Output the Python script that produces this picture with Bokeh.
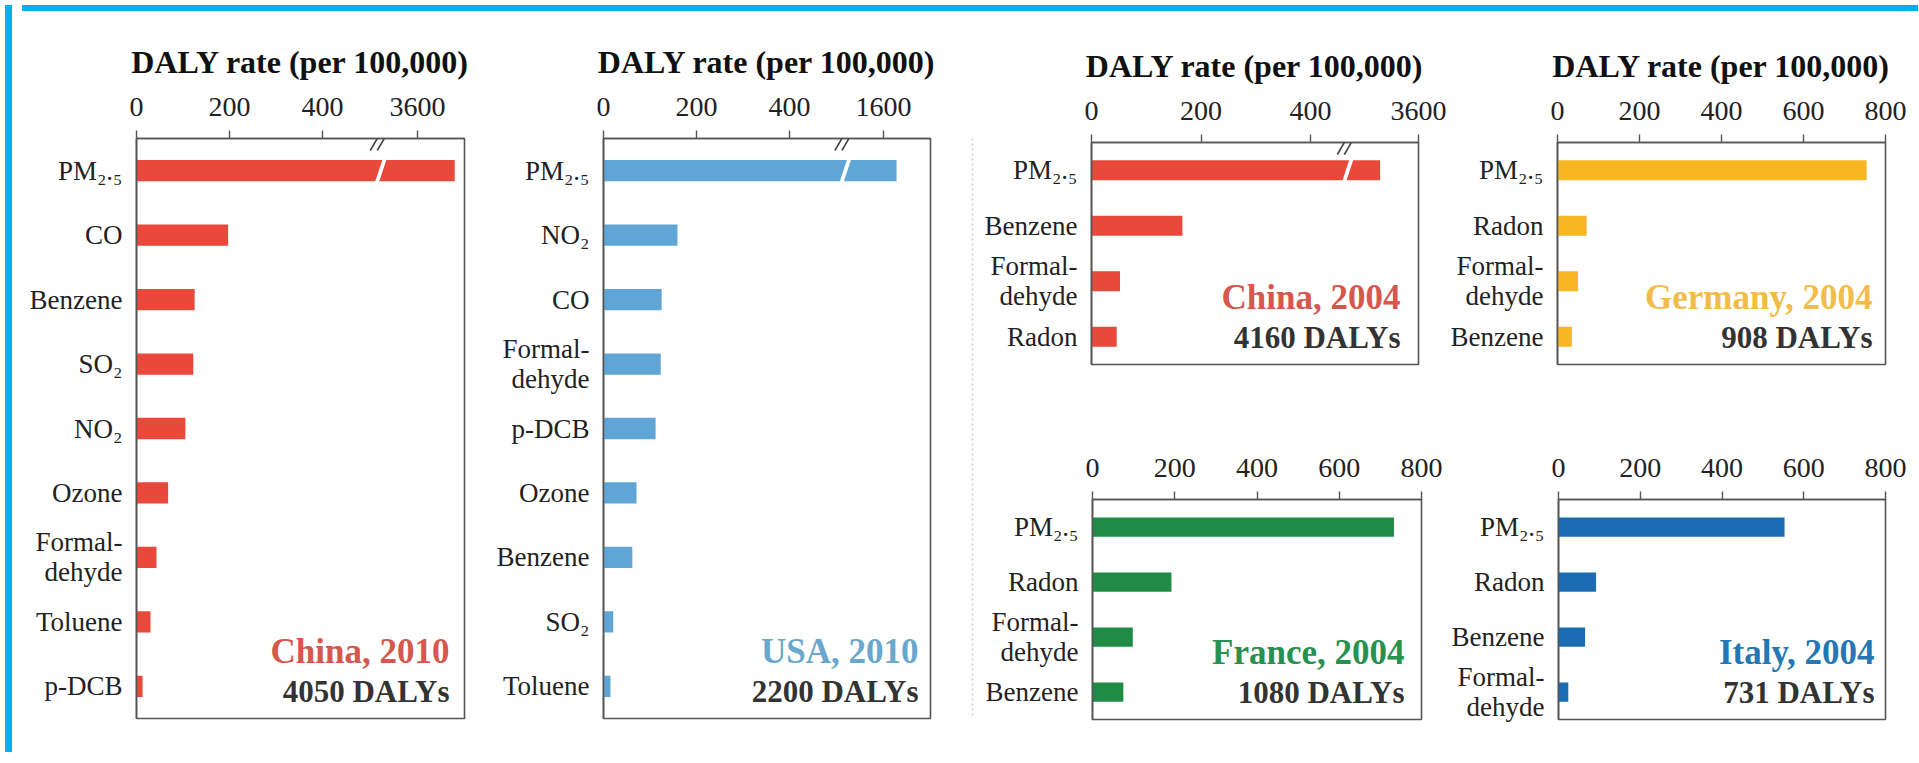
from bokeh.plotting import figure
from bokeh.models import Range1d, FactorRange, FixedTicker, Label, Span, Div, ColumnDataSource, Arrow
from bokeh.layouts import row, column
from bokeh.embed import file_html
from bokeh.resources import INLINE

FONT = "Liberation Serif"

# ---------------- data ----------------
FORM = "Formal-\ndehyde"
china2010_cats = ["PM₂.₅", "CO", "Benzene", "SO₂", "NO₂", "Ozone", FORM, "Toluene", "p-DCB"]
china2010_vals = [3680, 197, 125, 122, 105, 68, 43, 30, 13]
china2010_name = "China, 2010"
china2010_total = "4050 DALYs"
china2010_ticks = [0, 200, 400, 3600]

usa2010_cats = ["PM₂.₅", "NO₂", "CO", FORM, "p-DCB", "Ozone", "Benzene", "SO₂", "Toluene"]
usa2010_vals = [1628, 159, 125, 123, 112, 71, 62, 21, 15]
usa2010_name = "USA, 2010"
usa2010_total = "2200 DALYs"
usa2010_ticks = [0, 200, 400, 1600]

china2004_cats = ["PM₂.₅", "Benzene", FORM, "Radon"]
china2004_vals = [3530, 166, 52, 46]
china2004_name = "China, 2004"
china2004_total = "4160 DALYs"
china2004_ticks = [0, 200, 400, 3600]

germany2004_cats = ["PM₂.₅", "Radon", FORM, "Benzene"]
germany2004_vals = [754, 71, 50, 35]
germany2004_name = "Germany, 2004"
germany2004_total = "908 DALYs"

france2004_cats = ["PM₂.₅", "Radon", FORM, "Benzene"]
france2004_vals = [733, 192, 98, 75]
france2004_name = "France, 2004"
france2004_total = "1080 DALYs"

italy2004_cats = ["PM₂.₅", "Radon", "Benzene", FORM]
italy2004_vals = [553, 92, 65, 24]
italy2004_name = "Italy, 2004"
italy2004_total = "731 DALYs"

ticks_800 = [0, 200, 400, 600, 800]
axis_title = "DALY rate (per 100,000)"


def make_panel(cats, vals, color, text_color, name, total, width, height, bl, bt, fw, fh,
               ticks, xmax, brk=None, title=None, bar_h=0.34, right_off=15):
    def tx(v):
        if brk is None or v <= brk[0]:
            return v
        return brk[0] + (v - brk[1])

    x_end = tx(xmax)
    n = len(cats)
    p = figure(width=width, height=height,
               x_range=Range1d(0, x_end), y_range=FactorRange(factors=list(reversed(cats))),
               x_axis_location="above", toolbar_location=None, output_backend="svg",
               min_border_left=bl, min_border_top=bt,
               min_border_right=width - bl - fw, min_border_bottom=height - bt - fh)
    p.xgrid.visible = False
    p.ygrid.visible = False
    p.background_fill_color = "white"
    p.border_fill_color = "white"
    p.outline_line_color = "#555555"
    p.outline_line_width = 1.6

    src = ColumnDataSource(dict(cat=cats, val=vals, pos=[tx(v) for v in vals]))
    p.hbar(y="cat", left=0, right="pos", height=bar_h, source=src, color=color, line_color=None)

    # x axis (top)
    xa = p.xaxis[0]
    tick_pos = [tx(t) for t in ticks]
    xa.ticker = FixedTicker(ticks=tick_pos)
    xa.major_label_overrides = {tp: str(t) for tp, t in zip(tick_pos, ticks)}
    xa.major_tick_out = 8
    xa.major_tick_in = 0
    xa.minor_tick_out = 0
    xa.minor_tick_in = 0
    xa.axis_line_color = "#555555"
    xa.axis_line_width = 1.6
    xa.major_tick_line_color = "#555555"
    xa.major_tick_line_width = 1.4
    xa.major_label_text_font = FONT
    xa.major_label_text_font_size = "28px"
    xa.major_label_text_color = "#222222"
    xa.major_label_standoff = 15
    if title:
        xa.axis_label = title
        xa.axis_label_text_font = FONT
        xa.axis_label_text_font_style = "bold"
        xa.axis_label_text_font_size = "32px"
        xa.axis_label_text_color = "#111111"
        xa.axis_label_standoff = 15

    # y axis (categories)
    ya = p.yaxis[0]
    ya.major_tick_out = 0
    ya.major_tick_in = 0
    ya.minor_tick_out = 0
    ya.axis_line_color = "#555555"
    ya.axis_line_width = 1.6
    ya.major_label_text_font = FONT
    ya.major_label_text_font_size = "27px"
    ya.major_label_text_line_height = 1.0
    ya.major_label_text_color = "#222222"
    ya.major_label_standoff = 14

    # axis break
    if brk is not None:
        ppx = fw / x_end
        ppy = fh / n
        c = n - 0.5
        w = 4.0
        hh = 14.0
        sl = hh / 3.0
        xs_px = [-w / 2 - sl, w / 2 - sl, w / 2 + sl, -w / 2 + sl]
        ys_px = [-hh, -hh, hh, hh]
        p.patch(x=[brk[0] + d / ppx for d in xs_px], y=[c + d / ppy for d in ys_px],
                color="white", line_color=None)
        for off in (-3.5, 3.5):
            p.add_layout(Arrow(end=None,
                               x_start=brk[0] + (off - 7) / ppx, y_start=n - 12 / ppy,
                               x_end=brk[0] + (off + 7) / ppx, y_end=n + 12 / ppy,
                               line_color="#444444", line_width=1.6))

    p.add_layout(Label(x=x_end, y=0, x_offset=-right_off, y_offset=67, text=name,
                       text_align="right", text_baseline="middle", text_font=FONT,
                       text_font_style="bold", text_font_size="35px", text_color=text_color))
    p.add_layout(Label(x=x_end, y=0, x_offset=-right_off, y_offset=27, text=total,
                       text_align="right", text_baseline="middle", text_font=FONT,
                       text_font_style="bold", text_font_size="31px", text_color="#333333"))
    return p


RED, RED_T = "#e8493b", "#d5574d"
LBLUE, LBLUE_T = "#5fa5d6", "#6aa7cc"
YEL, YEL_T = "#f8b623", "#f2bc48"
GRN, GRN_T = "#1f8b45", "#279150"
BLU, BLU_T = "#1b6db3", "#2577b3"

p1 = make_panel(china2010_cats, china2010_vals, RED, RED_T, china2010_name, china2010_total,
                465, 741, 119, 122, 328, 581, china2010_ticks, 3701, brk=(525, 3521),
                title=axis_title, bar_h=0.33)
p2 = make_panel(usa2010_cats, usa2010_vals, LBLUE, LBLUE_T, usa2010_name, usa2010_total,
                485, 741, 121, 122, 327, 580, usa2010_ticks, 1701, brk=(520, 1518),
                title=axis_title, bar_h=0.33, right_off=12)
p3 = make_panel(china2004_cats, china2004_vals, RED, RED_T, china2004_name, china2004_total,
                470, 376, 114, 126, 327, 222, china2004_ticks, 3600, brk=(468, 3471),
                title=axis_title, bar_h=0.36, right_off=18)
p4 = make_panel(germany2004_cats, germany2004_vals, YEL, YEL_T, germany2004_name, germany2004_total,
                466, 376, 110, 126, 328, 222, ticks_800, 800, title=axis_title, bar_h=0.36, right_off=13)
p5 = make_panel(france2004_cats, france2004_vals, GRN, GRN_T, france2004_name, france2004_total,
                470, 365, 115, 105, 329, 222, ticks_800, 800, bar_h=0.35, right_off=17)
p6 = make_panel(italy2004_cats, italy2004_vals, BLU, BLU_T, italy2004_name, italy2004_total,
                466, 365, 111, 107, 327, 222, ticks_800, 800, bar_h=0.35, right_off=11)

sep = figure(width=10, height=741, x_range=Range1d(0, 1), y_range=Range1d(0, 1),
             toolbar_location=None, output_backend="svg", x_axis_type=None, y_axis_type=None,
             min_border_left=0, min_border_right=0, min_border_top=18, min_border_bottom=17)
sep.outline_line_color = None
sep.grid.visible = False
sep.add_layout(Span(location=0.5, dimension="height", line_color="#cccccc",
                    line_dash="2 3", line_width=1.5))

left_band = Div(text="", width=7, height=747,
                styles={"background-color": "#00b0f0"})
top_band = Div(text="", width=1896, height=6,
               styles={"background-color": "#00b0f0"})

right_block = column(row(p3, p4), row(p5, p6))
layout = row(left_band, column(top_band, row(p1, p2, sep, right_block)))

open("out.html", "w").write(file_html(layout, INLINE))
